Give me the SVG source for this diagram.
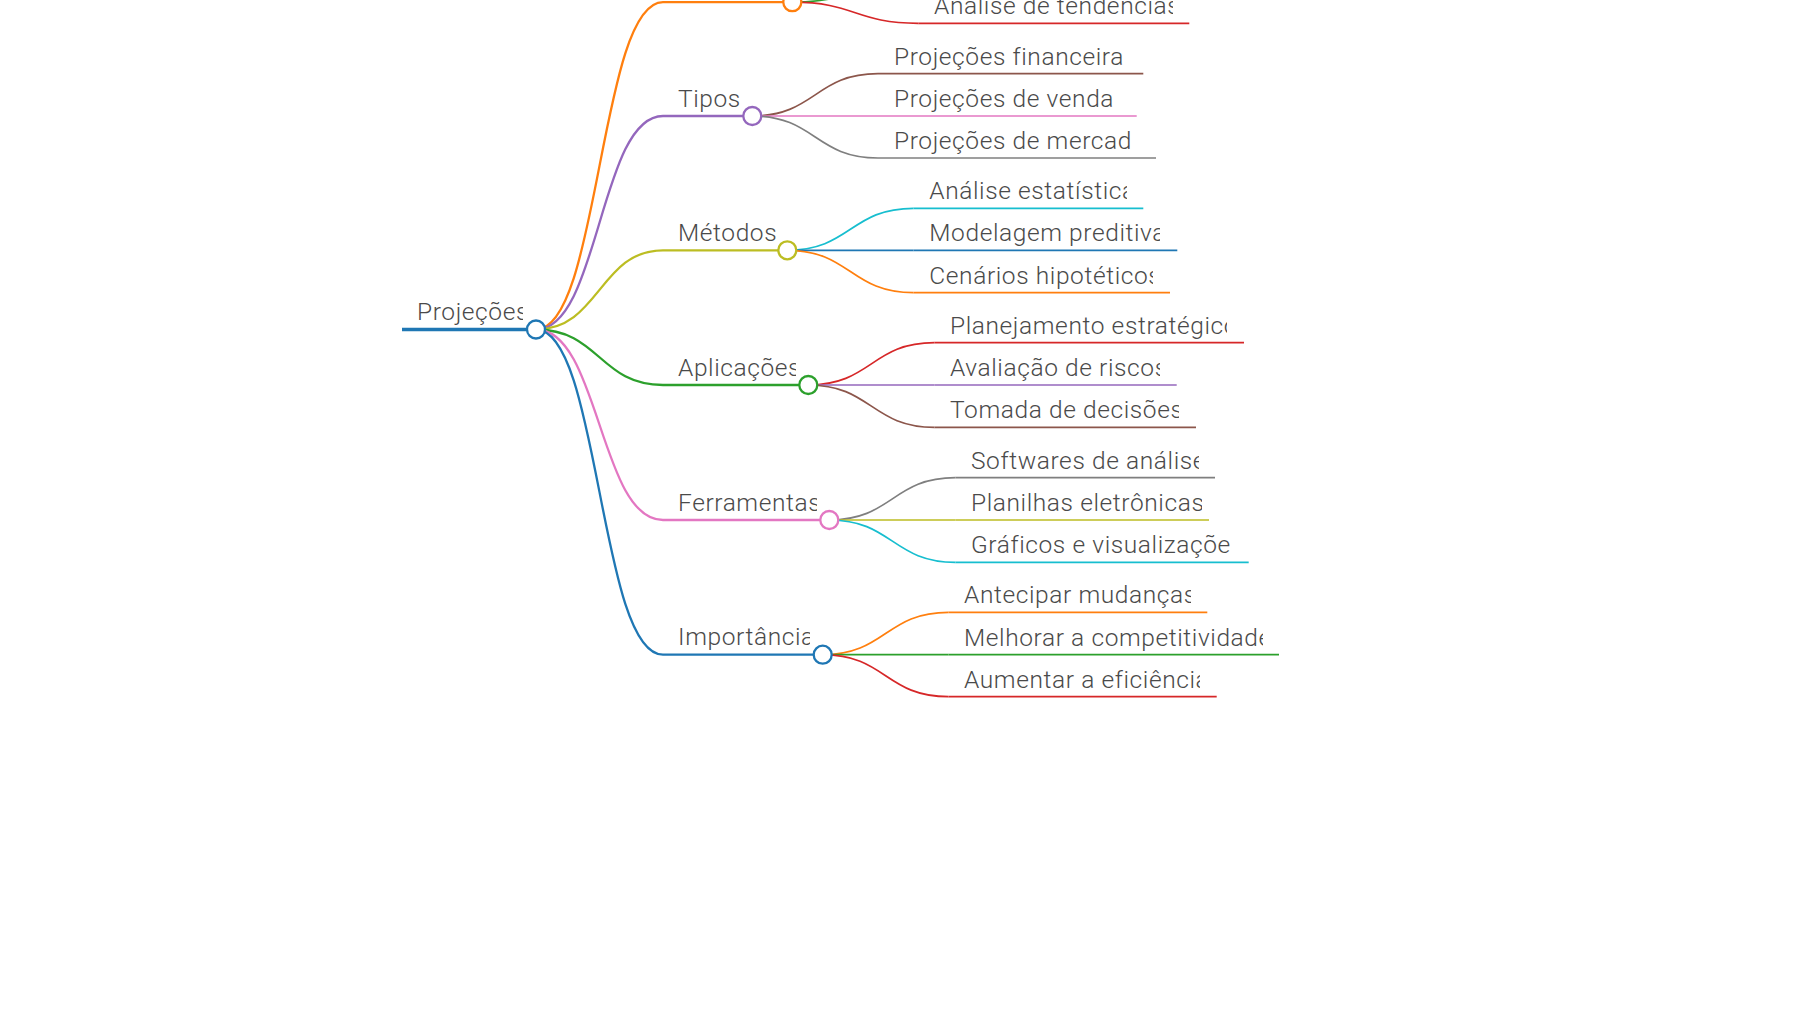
<svg xmlns="http://www.w3.org/2000/svg" width="1800" height="1012" viewBox="0 0 1800 1012">
<style>
.lk{fill:none;stroke-width:2.3}
.lk2{fill:none;stroke-width:1.7}
.ul0{stroke-width:3.3}
.ul1{stroke-width:2.3}
.ul2{stroke-width:1.7}
.dot{fill:#fff;stroke-width:2.3}
.t{font-family:Roboto,"Liberation Sans",sans-serif;font-weight:300;font-size:24.5px;letter-spacing:0.6px;fill:#4a4a4a}
.c0{stroke:#1f77b4}.c1{stroke:#ff7f0e}.c2{stroke:#2ca02c}.c3{stroke:#d62728}.c4{stroke:#9467bd}
.c5{stroke:#8c564b}.c6{stroke:#e377c2}.c7{stroke:#7f7f7f}.c8{stroke:#bcbd22}.c9{stroke:#17becf}
</style>
<defs>
<clipPath id="k-root"><rect x="402" y="290" width="121" height="40"/></clipPath>
<clipPath id="k-tipos"><rect x="663" y="78" width="77" height="40"/></clipPath>
<clipPath id="k-met"><rect x="663" y="212" width="113" height="40"/></clipPath>
<clipPath id="k-apl"><rect x="663" y="346" width="133" height="40"/></clipPath>
<clipPath id="k-fer"><rect x="663" y="481" width="154" height="40"/></clipPath>
<clipPath id="k-imp"><rect x="663" y="615" width="147" height="40"/></clipPath>
<clipPath id="k-l1"><rect x="918" y="-20" width="255" height="43"/></clipPath>
<clipPath id="k-l2"><rect x="878" y="35" width="249" height="40"/></clipPath>
<clipPath id="k-l3"><rect x="878" y="77" width="242" height="40"/></clipPath>
<clipPath id="k-l4"><rect x="878" y="119" width="261" height="40"/></clipPath>
<clipPath id="k-l5"><rect x="913" y="169" width="214" height="40"/></clipPath>
<clipPath id="k-l6"><rect x="913" y="211" width="247" height="40"/></clipPath>
<clipPath id="k-l7"><rect x="913" y="253" width="240" height="40"/></clipPath>
<clipPath id="k-l8"><rect x="934" y="303" width="293" height="40"/></clipPath>
<clipPath id="k-l9"><rect x="934" y="345" width="226" height="40"/></clipPath>
<clipPath id="k-l10"><rect x="934" y="388" width="245" height="40"/></clipPath>
<clipPath id="k-l11"><rect x="955" y="438" width="244" height="40"/></clipPath>
<clipPath id="k-l12"><rect x="955" y="480" width="247" height="40"/></clipPath>
<clipPath id="k-l13"><rect x="955" y="523" width="277" height="40"/></clipPath>
<clipPath id="k-l14"><rect x="948" y="573" width="243" height="40"/></clipPath>
<clipPath id="k-l15"><rect x="948" y="615" width="315" height="40"/></clipPath>
<clipPath id="k-l16"><rect x="948" y="657" width="252" height="40"/></clipPath>
</defs>
<rect width="1800" height="1012" fill="#fff"/>
<g id="connectors">
<path class="lk c1" d="M536 329.5C599.5 329.5 599.5 2.2 663 2.2"/>
<path class="lk c4" d="M536 329.5C599.5 329.5 599.5 116 663 116"/>
<path class="lk c8" d="M536 329.5C599.5 329.5 599.5 250.3 663 250.3"/>
<path class="lk c2" d="M536 329.5C599.5 329.5 599.5 385 663 385"/>
<path class="lk c6" d="M536 329.5C599.5 329.5 599.5 520 663 520"/>
<path class="lk c0" d="M536 329.5C599.5 329.5 599.5 654.7 663 654.7"/>
<path class="lk2 c2" d="M792.3 2.2C855.3 2.2 855.3 -19 918.3 -19"/>
<path class="lk2 c3" d="M792.3 2.2C855.3 2.2 855.3 23.3 918.3 23.3"/>
<path class="lk2 c5" d="M752.3 116C815.2 116 815.2 73.7 878 73.7"/>
<path class="lk2 c6" d="M752.3 116C815.2 116 815.2 116 878 116"/>
<path class="lk2 c7" d="M752.3 116C815.2 116 815.2 158 878 158"/>
<path class="lk2 c9" d="M787.3 250.3C850.4 250.3 850.4 208.3 913.5 208.3"/>
<path class="lk2 c0" d="M787.3 250.3C850.4 250.3 850.4 250.3 913.5 250.3"/>
<path class="lk2 c1" d="M787.3 250.3C850.4 250.3 850.4 292.7 913.5 292.7"/>
<path class="lk2 c3" d="M808.3 385C871.4 385 871.4 342.7 934.5 342.7"/>
<path class="lk2 c4" d="M808.3 385C871.4 385 871.4 385 934.5 385"/>
<path class="lk2 c5" d="M808.3 385C871.4 385 871.4 427.3 934.5 427.3"/>
<path class="lk2 c7" d="M829.3 520C892.4 520 892.4 477.7 955.5 477.7"/>
<path class="lk2 c8" d="M829.3 520C892.4 520 892.4 520 955.5 520"/>
<path class="lk2 c9" d="M829.3 520C892.4 520 892.4 562.3 955.5 562.3"/>
<path class="lk2 c1" d="M822.7 654.7C885.6 654.7 885.6 612.3 948.5 612.3"/>
<path class="lk2 c2" d="M822.7 654.7C885.6 654.7 885.6 654.7 948.5 654.7"/>
<path class="lk2 c3" d="M822.7 654.7C885.6 654.7 885.6 696.7 948.5 696.7"/>
</g>
<g id="node-root">
<line class="ul0 c0" x1="402" y1="329.5" x2="536" y2="329.5"/>
<circle class="dot c0" cx="536" cy="329.5" r="9"/>
<text class="t" x="417" y="320" clip-path="url(#k-root)">Projeções</text>
</g>
<g id="node-b1">
<line class="ul1 c1" x1="663" y1="2.2" x2="792.3" y2="2.2"/>
<circle class="dot c1" cx="792.3" cy="2.2" r="9"/>
</g>
<g id="node-b1-a">
<line class="ul2 c2" x1="918.3" y1="-19" x2="1160" y2="-19"/>
</g>
<g id="node-b1-b">
<line class="ul2 c3" x1="918.3" y1="23.3" x2="1189.3" y2="23.3"/>
<text class="t" x="934" y="14" clip-path="url(#k-l1)">Análise de tendências</text>
</g>
<g id="node-tipos">
<line class="ul1 c4" x1="663" y1="116" x2="752.3" y2="116"/>
<circle class="dot c4" cx="752.3" cy="116" r="9"/>
<text class="t" x="678" y="106.5" clip-path="url(#k-tipos)">Tipos</text>
</g>
<g id="node-tipos-1">
<line class="ul2 c5" x1="878" y1="73.7" x2="1143.3" y2="73.7"/>
<text class="t" x="894" y="64.5" clip-path="url(#k-l2)">Projeções financeira</text>
</g>
<g id="node-tipos-2">
<line class="ul2 c6" x1="878" y1="116" x2="1136.7" y2="116"/>
<text class="t" x="894" y="106.5" clip-path="url(#k-l3)">Projeções de venda</text>
</g>
<g id="node-tipos-3">
<line class="ul2 c7" x1="878" y1="158" x2="1156" y2="158"/>
<text class="t" x="894" y="148.5" clip-path="url(#k-l4)">Projeções de mercad</text>
</g>
<g id="node-metodos">
<line class="ul1 c8" x1="663" y1="250.3" x2="787.3" y2="250.3"/>
<circle class="dot c8" cx="787.3" cy="250.3" r="9"/>
<text class="t" x="678" y="241" clip-path="url(#k-met)">Métodos</text>
</g>
<g id="node-metodos-1">
<line class="ul2 c9" x1="913.5" y1="208.3" x2="1143.3" y2="208.3"/>
<text class="t" x="929.3" y="199" clip-path="url(#k-l5)">Análise estatística</text>
</g>
<g id="node-metodos-2">
<line class="ul2 c0" x1="913.5" y1="250.3" x2="1177.3" y2="250.3"/>
<text class="t" x="929.3" y="241" clip-path="url(#k-l6)">Modelagem preditiva</text>
</g>
<g id="node-metodos-3">
<line class="ul2 c1" x1="913.5" y1="292.7" x2="1170" y2="292.7"/>
<text class="t" x="929.3" y="283.5" clip-path="url(#k-l7)">Cenários hipotéticos</text>
</g>
<g id="node-aplicacoes">
<line class="ul1 c2" x1="663" y1="385" x2="808.3" y2="385"/>
<circle class="dot c2" cx="808.3" cy="385" r="9"/>
<text class="t" x="678" y="375.5" clip-path="url(#k-apl)">Aplicações</text>
</g>
<g id="node-aplicacoes-1">
<line class="ul2 c3" x1="934.5" y1="342.7" x2="1244" y2="342.7"/>
<text class="t" x="950" y="333.5" clip-path="url(#k-l8)">Planejamento estratégico</text>
</g>
<g id="node-aplicacoes-2">
<line class="ul2 c4" x1="934.5" y1="385" x2="1176.7" y2="385"/>
<text class="t" x="950" y="375.5" clip-path="url(#k-l9)">Avaliação de riscos</text>
</g>
<g id="node-aplicacoes-3">
<line class="ul2 c5" x1="934.5" y1="427.3" x2="1196" y2="427.3"/>
<text class="t" x="950" y="418" clip-path="url(#k-l10)">Tomada de decisões</text>
</g>
<g id="node-ferramentas">
<line class="ul1 c6" x1="663" y1="520" x2="829.3" y2="520"/>
<circle class="dot c6" cx="829.3" cy="520" r="9"/>
<text class="t" x="678" y="510.5" clip-path="url(#k-fer)">Ferramentas</text>
</g>
<g id="node-ferramentas-1">
<line class="ul2 c7" x1="955.5" y1="477.7" x2="1215" y2="477.7"/>
<text class="t" x="971" y="468.5" clip-path="url(#k-l11)">Softwares de análise</text>
</g>
<g id="node-ferramentas-2">
<line class="ul2 c8" x1="955.5" y1="520" x2="1209" y2="520"/>
<text class="t" x="971" y="510.5" clip-path="url(#k-l12)">Planilhas eletrônicas</text>
</g>
<g id="node-ferramentas-3">
<line class="ul2 c9" x1="955.5" y1="562.3" x2="1248.7" y2="562.3"/>
<text class="t" x="971" y="553" clip-path="url(#k-l13)">Gráficos e visualizaçõe</text>
</g>
<g id="node-importancia">
<line class="ul1 c0" x1="663" y1="654.7" x2="822.7" y2="654.7"/>
<circle class="dot c0" cx="822.7" cy="654.7" r="9"/>
<text class="t" x="678" y="645" clip-path="url(#k-imp)">Importância</text>
</g>
<g id="node-importancia-1">
<line class="ul2 c1" x1="948.5" y1="612.3" x2="1207.3" y2="612.3"/>
<text class="t" x="964" y="603" clip-path="url(#k-l14)">Antecipar mudanças</text>
</g>
<g id="node-importancia-2">
<line class="ul2 c2" x1="948.5" y1="654.7" x2="1279" y2="654.7"/>
<text class="t" x="964" y="645.5" clip-path="url(#k-l15)">Melhorar a competitividade</text>
</g>
<g id="node-importancia-3">
<line class="ul2 c3" x1="948.5" y1="696.7" x2="1216.7" y2="696.7"/>
<text class="t" x="964" y="687.5" clip-path="url(#k-l16)">Aumentar a eficiência</text>
</g>
</svg>
